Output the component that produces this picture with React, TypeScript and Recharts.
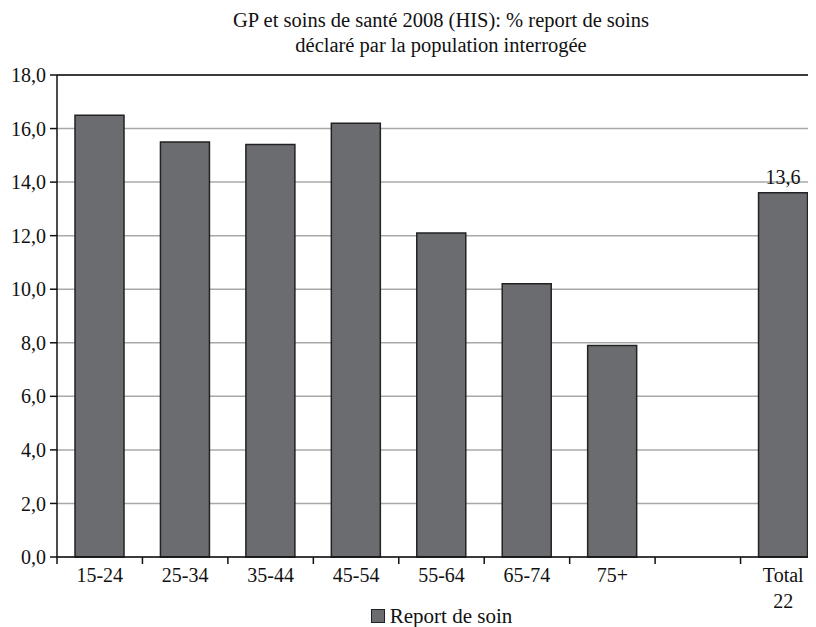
import { BarChart, Bar, XAxis, YAxis, CartesianGrid, Legend, LabelList, ReferenceLine } from "recharts";

const categories = ["15-24", "25-34", "35-44", "45-54", "55-64", "65-74", "75+", "", "Total\n22"];
const reportDeSoin = [16.5, 15.5, 15.4, 16.2, 12.1, 10.2, 7.9, null, 13.6];
const shownLabels = [null, null, null, null, null, null, null, null, 13.6];
const yTicks = [0, 2, 4, 6, 8, 10, 12, 14, 16, 18];

const data = categories.map((c, i) => ({ group: c, value: reportDeSoin[i], label: shownLabels[i] }));

const FONT = "'Liberation Serif', 'DejaVu Serif', serif";
const BAR = "#6b6c70";
const TICK_MARGIN = 11;

const fmt = (v: number) => v.toFixed(1).replace(".", ",");

// category label plus tick marks on the band boundaries
function CatTick({ x, y, payload, index, visibleTicksCount }: any) {
  const lines = String(payload.value).split("\n");
  const half = payload.offset ?? 0;
  const axisY = y - TICK_MARGIN;
  const last = index === visibleTicksCount - 1;
  return (
    <g>
      <line x1={x - half} x2={x - half} y1={axisY} y2={axisY + 7} stroke="#111" strokeWidth={1.5} />
      {last && <line x1={x + half} x2={x + half} y1={axisY} y2={axisY + 7} stroke="#111" strokeWidth={1.5} />}
      <text x={x} y={y} textAnchor="middle" fontFamily={FONT} fontSize={20} fill="#111">
        {lines.map((l, i) => (
          <tspan key={i} x={x} dy={i === 0 ? "0.71em" : 26}>
            {l}
          </tspan>
        ))}
      </text>
    </g>
  );
}

function TopLabel(props: any) {
  const { x, y, width, value } = props;
  if (value == null) return null;
  return (
    <text x={x + width / 2} y={y - 9} textAnchor="middle" fontFamily={FONT} fontSize={20} fill="#111">
      {fmt(Number(value))}
    </text>
  );
}

function LegendBox() {
  return (
    <div style={{ display: "flex", justifyContent: "center", alignItems: "center", height: 22, fontFamily: FONT, fontSize: 21, color: "#111" }}>
      <span style={{ display: "inline-block", width: 12, height: 12, background: BAR, border: "1px solid #222", marginRight: 5 }} />
      Report de soin
    </div>
  );
}

export default function App() {
  return (
    <div style={{ width: 808, height: 619, overflow: "hidden", position: "relative", fontFamily: FONT }}>
      <div style={{ width: 866, height: 56, textAlign: "center", fontSize: 20.5, lineHeight: "24.5px", color: "#111" }}>
        GP et soins de santé 2008 (HIS): % report de soins
        <br />
        déclaré par la population interrogée
      </div>
      <BarChart width={830} height={563} data={data} margin={{ top: 11, right: 12, left: 0, bottom: 0 }}>
        <CartesianGrid vertical={false} stroke="#a8a8a8" strokeWidth={1.5} />
        <ReferenceLine y={18} stroke="#111" strokeWidth={1.5} />
        <XAxis
          dataKey="group"
          interval={0}
          tick={<CatTick />}
          tickLine={false}
          tickSize={0}
          tickMargin={TICK_MARGIN}
          axisLine={{ stroke: "#111", strokeWidth: 1.5 }}
          height={48}
        />
        <YAxis
          width={49}
          domain={[0, 18]}
          ticks={yTicks}
          tickFormatter={fmt}
          tick={{ fontFamily: FONT, fontSize: 20, fill: "#111" }}
          tickSize={7}
          tickMargin={4}
          tickLine={{ stroke: "#111", strokeWidth: 1.5 }}
          axisLine={{ stroke: "#111", strokeWidth: 1.5 }}
          interval={0}
        />
        <Legend verticalAlign="bottom" content={<LegendBox />} wrapperStyle={{ left: 49, width: 769 }} />
        <Bar dataKey="value" name="Report de soin" fill={BAR} stroke="#222" strokeWidth={1.5} barSize={49} isAnimationActive={false}>
          <LabelList dataKey="label" content={<TopLabel />} />
        </Bar>
      </BarChart>
    </div>
  );
}
